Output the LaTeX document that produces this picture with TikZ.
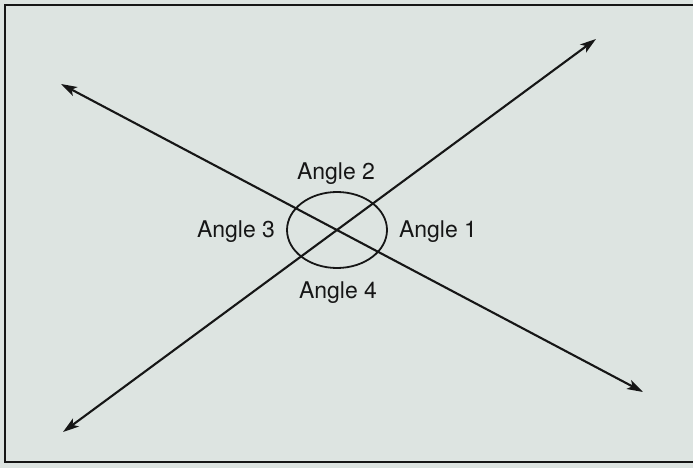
\documentclass[tikz,border=0pt]{standalone}
\usepackage{fontspec}
\setmainfont{TeX Gyre Heros}
\usetikzlibrary{arrows.meta}
\definecolor{paper}{HTML}{DDE4E1}
\definecolor{ink}{HTML}{161616}
\tikzset{ray/.style={{Stealth[length=16pt,width=10pt,inset=4pt]}-{Stealth[length=16pt,width=10pt,inset=4pt]},line width=2.1pt,draw=ink}, lbl/.style={anchor=base,inner sep=0pt,text=ink,font=\fontsize{23}{24}\selectfont}, anglemark/.style={draw=ink,line width=1.8pt}}
\begin{document}
\begin{tikzpicture}[x=1pt,y=-1pt]
\fill[paper](0,0)rectangle(693,468);\useasboundingbox(0,0)rectangle(693,468);
\draw[ink,line width=2.4pt](693,5)--(5,5)--(5,462)--(693,462);
\coordinate(a1)at(61,84);\coordinate(a2)at(643,392);
\coordinate(b1)at(63,432);\coordinate(b2)at(596,39);
\coordinate(o)at(337,230);
\draw[anglemark](o)ellipse[x radius=50,y radius=38];
\draw[ray](a1)--(a2);\draw[ray](b1)--(b2);
\node[lbl](n1)at(438,237){Angle 1};\node[lbl](n2)at(336,179){Angle 2};
\node[lbl](n3)at(236,237){Angle 3};\node[lbl](n4)at(338,298){Angle 4};
\end{tikzpicture}
\end{document}
